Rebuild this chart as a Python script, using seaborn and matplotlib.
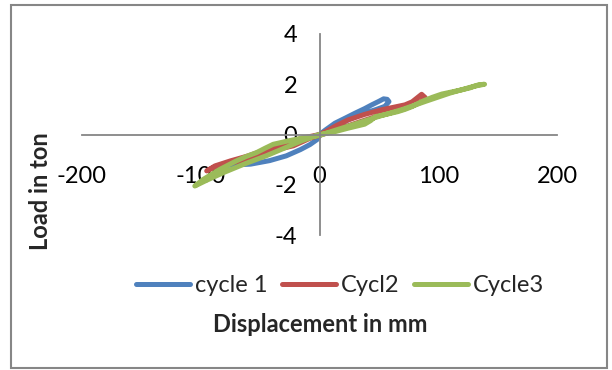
import matplotlib
matplotlib.use("Agg")
import matplotlib.pyplot as plt
import seaborn as sns
import pandas as pd
from matplotlib.patches import Rectangle
from matplotlib.lines import Line2D

# ---- data (displacement in mm, load in ton) ----
cycle1_disp = [0, 5, 13, 22, 30, 38, 44, 50, 54, 57, 58.5, 55, 48, 38, 25, 12, 3, 0,
               -2, -8, -16, -28, -42, -58, -75, -86, -80, -68, -55, -40, -25, -10, 0]
cycle1_load = [0, 0.18, 0.45, 0.66, 0.85, 1.03, 1.18, 1.32, 1.42, 1.40, 1.31, 1.12, 1.0, 0.85, 0.6, 0.3, 0.05, -0.05,
               -0.2, -0.4, -0.6, -0.85, -1.04, -1.18, -1.22, -1.26, -1.16, -1.02, -0.86, -0.65, -0.42, -0.15, 0]

cycle2_disp = [0, 5, 14, 24, 38, 52, 62, 72, 78, 82, 86, 89, 85, 75, 65, 50, 35, 20, 8, 0,
               -8, -22, -33, -44, -56, -67, -78, -87, -95, -88, -75, -60, -45, -30, -15, 0]
cycle2_load = [0, 0.11, 0.35, 0.58, 0.80, 0.98, 1.08, 1.18, 1.30, 1.45, 1.60, 1.47, 1.30, 1.12, 0.95, 0.75, 0.52, 0.28, 0.08, -0.03,
               -0.15, -0.45, -0.57, -0.79, -0.92, -1.05, -1.18, -1.27, -1.45, -1.25, -1.05, -0.85, -0.6, -0.38, -0.15, 0]

cycle3_disp = [0, 12, 24, 38, 43, 47, 56, 66, 72, 78, 86, 95, 103, 112, 120, 127, 134, 139,
               130, 110, 90, 70, 50, 30, 10, 0,
               -12, -25, -39, -46, -53, -62, -70, -77, -84, -91, -98, -105,
               -95, -80, -62, -45, -30, -15, 0]
cycle3_load = [0, 0.10, 0.25, 0.41, 0.55, 0.71, 0.80, 0.91, 1.0, 1.11, 1.31, 1.48, 1.61, 1.70, 1.78, 1.86, 1.98, 2.0,
               1.92, 1.65, 1.33, 1.0, 0.72, 0.42, 0.12, -0.04,
               -0.12, -0.24, -0.39, -0.55, -0.72, -0.88, -1.05, -1.22, -1.39, -1.59, -1.79, -2.05,
               -1.82, -1.5, -1.15, -0.85, -0.55, -0.25, 0]

series_names = ["cycle 1", "Cycl2", "Cycle3"]
series_colors = ["#4F81BD", "#C0504D", "#9BBB59"]
x_ticks = [-200, -100, 0, 100, 200]
y_ticks = [-4, -2, 0, 2, 4]
x_title = "Displacement in mm"
y_title = "Load in ton"

frames = []
for name, d, l in zip(series_names, [cycle1_disp, cycle2_disp, cycle3_disp],
                      [cycle1_load, cycle2_load, cycle3_load]):
    frames.append(pd.DataFrame({"disp": d, "load": l, "cycle": name, "order": range(len(d))}))
df = pd.concat(frames, ignore_index=True)

sns.set_style("white")
plt.rcParams["font.family"] = ["Lato", "DejaVu Sans"]
plt.rcParams["axes.unicode_minus"] = False

W, H = 612, 370
fig = plt.figure(figsize=(W / 100, H / 100), dpi=100)
ax = fig.add_axes([82 / W, 1 - 235 / H, 475 / W, 201 / H])

sns.lineplot(data=df, x="disp", y="load", hue="cycle", palette=series_colors,
             hue_order=series_names, sort=False, estimator=None, units="cycle",
             linewidth=3.6, ax=ax, legend=False)
for line in ax.get_lines():
    line.set_solid_capstyle("round")
    line.set_solid_joinstyle("round")

ax.set_xlim(-200, 200)
ax.set_ylim(-4, 4)
ax.set_xticks(x_ticks)
ax.set_yticks(y_ticks)
ax.set_xticklabels([str(v) for v in x_ticks])
ax.set_yticklabels([str(v) for v in y_ticks])
ax.set_xlabel("")
ax.set_ylabel("")
for s in ["top", "right"]:
    ax.spines[s].set_visible(False)
ax.spines["left"].set_position(("data", 0))
ax.spines["bottom"].set_position(("data", 0))
for s in ["left", "bottom"]:
    ax.spines[s].set_color("#868686")
    ax.spines[s].set_linewidth(1.3)
ax.tick_params(axis="x", length=0, pad=23, labelsize=17, colors="black")
ax.tick_params(axis="y", length=0, pad=16, labelsize=17, colors="black")
ax.patch.set_alpha(0)

# legend
handles = [Line2D([], [], color=c, lw=3.6, solid_capstyle="round") for c in series_colors]
fig.legend(handles, series_names, loc="center", bbox_to_anchor=(340 / W, 1 - 286 / H),
           ncol=3, frameon=False, fontsize=17, handlelength=2.3, handletextpad=0.2,
           columnspacing=0.6, borderaxespad=0)

fig.text(320 / W, 1 - 324 / H, x_title, ha="center", va="center", fontsize=17, fontweight="bold")
fig.text(41 / W, 1 - 191 / H, y_title, ha="center", va="center", rotation=90,
         fontsize=17, fontweight="bold")

fig.patches.append(Rectangle((11 / W, 1 - 368 / H), 596 / W, 363 / H, transform=fig.transFigure,
                             fill=False, edgecolor="#868686", linewidth=1.5))

fig.savefig("out.png", dpi=100)
